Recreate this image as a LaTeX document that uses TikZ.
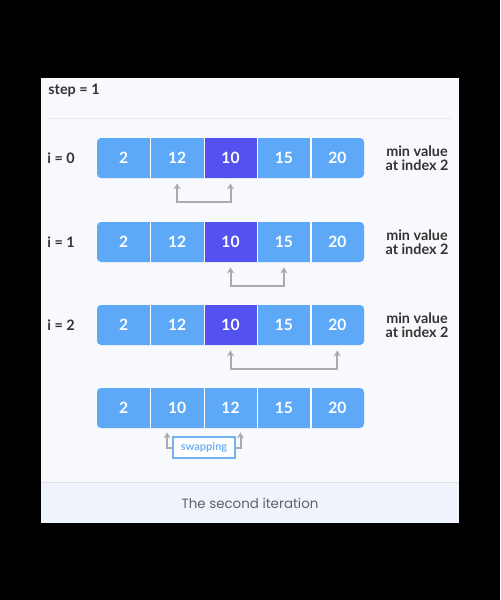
\documentclass[tikz,border=0pt]{standalone}
\usepackage{fontspec}
\setmainfont{Lato}
\newfontfamily\capfont{Poppins}
\usetikzlibrary{arrows.meta}
\definecolor{cellblue}{HTML}{5DA9F8}
\definecolor{minblue}{HTML}{5351EF}
\definecolor{arrowgray}{HTML}{ABABAB}
\definecolor{txtgray}{HTML}{333333}
\definecolor{panel}{HTML}{F8F9FC}
\definecolor{band}{HTML}{EEF3FC}
\definecolor{swapblue}{HTML}{74B2F2}

\begin{document}
\begin{tikzpicture}[x=0.5pt,y=-0.5pt,
  cell/.style={minimum width=26.7pt,minimum height=20pt,inner sep=0pt,text=white,font=\bfseries\fontsize{7.8}{9}\selectfont},
  lbl/.style={anchor=west,text=txtgray,inner sep=0pt,font=\bfseries\fontsize{7.2}{8}\selectfont},
  minlbl/.style={align=center,text=txtgray,inner sep=0pt,font=\bfseries\fontsize{7.2}{7.2}\selectfont},
  swaparrow/.style={draw=arrowgray,line width=1pt,-{Stealth[length=3pt,width=3.5pt]}},
  swapbox/.style={draw=swapblue,line width=1pt,fill=white,text=swapblue,minimum width=31pt,minimum height=10.5pt,inner sep=0pt,font=\bfseries\fontsize{5.5}{6}\selectfont}]
	% background and panel
	\fill[black](0,0)rectangle(500,600);
	\fill[panel](41,78)rectangle(459,523);
	\fill[band](41,482)rectangle(459,523);
	\draw[black!12](41,482)--(459,482);
	\draw[black!8](48,118)--(452,118);
	\node[lbl](step)at(48,90){step = 1};
	% arrays
	\foreach \r/\y in{0/158,1/242,2/325}
	{\fill[cellblue,rounded corners=2pt](97,\y-20)rectangle(364,\y+20);
		\foreach \v/\c [count=\k] in{2/none,12/none,10/minblue,15/none,20/none}
		\node[cell,fill=\c](c\r\k)at(70.3+53.4*\k,\y){\v};
		\node[lbl](i\r)at(47,\y){i = \r};
		\node[minlbl](m\r)at(417,\y){min value\\at index 2};
	}
	\fill[cellblue,rounded corners=2pt](97,388)rectangle(364,428);
	\foreach \v [count=\k] in{2,10,12,15,20}
	\node[cell](c3\k)at(70.3+53.4*\k,408){\v};
	\foreach \r in{0,1,2,3}
	{\foreach \k in{1,2,3,4}
		\draw[white,line width=0.6pt](c\r\k.north east)--(c\r\k.south east);
	}
	% arrows
	\foreach \r/\a/\b in{0/2/3,1/3/4,2/3/5}
	\draw[swaparrow,{Stealth[length=3pt,width=3.5pt]}-{Stealth[length=3pt,width=3.5pt]}]
	([yshift=-2.5pt]c\r\a.south)--++(0,19)-|([yshift=-2.5pt]c\r\b.south);
	\node[swapbox](swap)at(204,447.5){swapping};
	\draw[swaparrow](swap.west)-|([xshift=-5pt,yshift=-2pt]c32.south);
	\draw[swaparrow](swap.east)-|([xshift=5pt,yshift=-2pt]c33.south);
	\node[text=black!62,font=\capfont\fontsize{6.7}{8}\selectfont](cap)at(250,503){The second iteration};
\end{tikzpicture}
\end{document}
